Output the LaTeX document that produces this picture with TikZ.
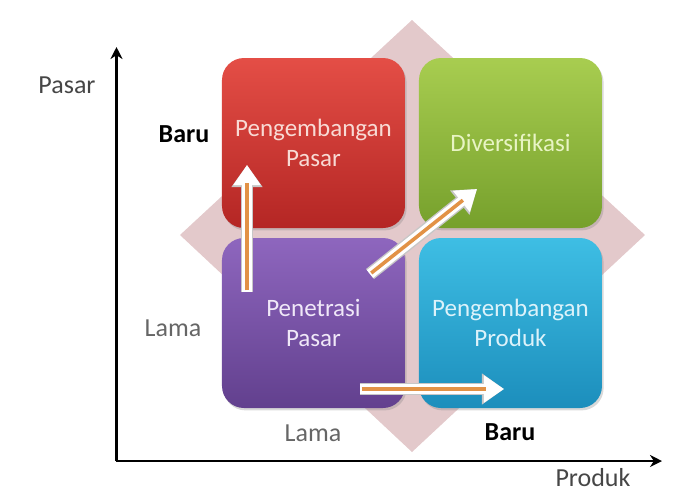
\documentclass[tikz,border=0pt]{standalone}
\usepackage{fontspec}
\setmainfont{Carlito}
\usetikzlibrary{arrows.meta,shadows}

\definecolor{diamondpink}{RGB}{227,201,203}
\definecolor{redtop}{RGB}{228,78,70}
\definecolor{redbot}{RGB}{180,38,36}
\definecolor{greentop}{RGB}{168,205,80}
\definecolor{greenbot}{RGB}{118,160,44}
\definecolor{purpletop}{RGB}{142,102,190}
\definecolor{purplebot}{RGB}{98,64,142}
\definecolor{bluetop}{RGB}{62,190,228}
\definecolor{bluebot}{RGB}{28,142,188}
\definecolor{arroworange}{RGB}{226,146,70}
\definecolor{labelgray}{RGB}{70,70,70}

\begin{document}
\begin{tikzpicture}[x=0.5pt,y=-0.5pt,
  quad/.style={rounded corners=11pt, minimum width=91.5pt, minimum height=85pt,
    align=center, font=\fontsize{12.5}{15}\selectfont,
    drop shadow={opacity=0.3, shadow xshift=0.8pt, shadow yshift=-1.2pt}},
  axislabel/.style={font=\fontsize{13}{15}\selectfont, text=labelgray},
  flow/.style={draw=white, line width=5pt, -{Triangle[length=10pt,width=13pt]},
    preaction={draw=black!22, line width=6.4pt, -{Triangle[length=11pt,width=14.8pt]}},
    postaction={draw=arroworange, line width=1.8pt, arrows=-, shorten >=9pt, shorten <=0.8pt}}]

\useasboundingbox (0,0) rectangle (693,495);

\fill [diamondpink] (412,20) -- (645,235) -- (412,452) -- (180,235) -- cycle;

\node [quad, top color=redtop, bottom color=redbot, text={rgb,255:red,248;green,218;blue,212}]
  (pasardev) at (313.5,143) {Pengembangan\\Pasar};
\node [quad, top color=greentop, bottom color=greenbot, text={rgb,255:red,232;green,244;blue,196}]
  (divers) at (510.5,143) {Diversifikasi};
\node [quad, top color=purpletop, bottom color=purplebot, text={rgb,255:red,240;green,232;blue,248}]
  (penetrasi) at (313.5,323) {Penetrasi\\Pasar};
\node [quad, top color=bluetop, bottom color=bluebot, text={rgb,255:red,220;green,242;blue,250}]
  (produkdev) at (510.5,323) {Pengembangan\\Produk};

% axes
\coordinate (origin) at (116.5,461);
\coordinate (ytip) at (116.5,47);
\coordinate (xtip) at (662,461);
\draw [line width=1.3pt, -{Stealth[length=6pt,width=6pt]}] (origin) -- (ytip);
\draw [line width=1.3pt, -{Stealth[length=6pt,width=6pt]}] (origin) -- (xtip);

\node [axislabel] (pasarlabel) at (67,85) {Pasar};
\node [axislabel] (produklabel) at (593,478) {Produk};
\node [font=\fontsize{13}{15}\selectfont\bfseries] (barumarket) at (184,134) {Baru};
\node [axislabel, text=black!60] (lamamarket) at (173,328) {Lama};
\node [axislabel, text=black!60] (lamaproduct) at (313,433) {Lama};
\node [font=\fontsize{13}{15}\selectfont\bfseries] (baruproduct) at (510,432) {Baru};

% growth arrows
\coordinate (upstart) at (247,292);
\coordinate (upend) at (247,165);
\coordinate (diagstart) at (370,274);
\coordinate (diagend) at (477,189);
\coordinate (rightstart) at (360,389);
\coordinate (rightend) at (504,389);
\draw [flow] (upstart) -- (upend);
\draw [flow] (diagstart) -- (diagend);
\draw [flow] (rightstart) -- (rightend);

\end{tikzpicture}
\end{document}
